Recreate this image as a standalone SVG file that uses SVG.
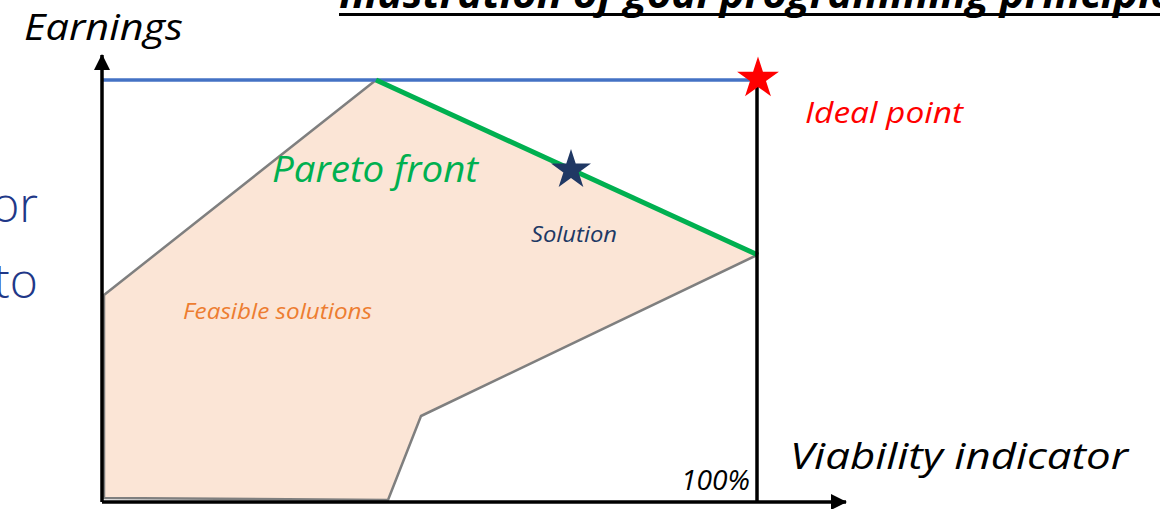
<svg xmlns="http://www.w3.org/2000/svg" xmlns:xlink="http://www.w3.org/1999/xlink" width="1160" height="509" viewBox="0 0 1160 509">
<style>
.it{font-family:"Open Sans","Liberation Sans",sans-serif;font-style:italic}
.axis{stroke:#000;stroke-width:3.5;fill:none}
</style>
<defs>
<marker id="arr" markerUnits="userSpaceOnUse" markerWidth="18" markerHeight="18" refX="15" refY="8" orient="auto">
<path d="M0,0 L16,8 L0,16 z" fill="#000"/>
</marker>
<path id="star" d="M0,-20 L4.49,-6.18 L19.02,-6.18 L7.27,2.36 L11.76,16.18 L0,7.64 L-11.76,16.18 L-7.27,2.36 L-19.02,-6.18 L-4.49,-6.18 z"/>
</defs>
<rect width="1160" height="509" fill="#fff"/>
<g id="title">
<text x="339" y="8" class="it" font-weight="700" font-size="42" fill="#000">Illustration of goal programming principle</text>
<line x1="339" y1="14.5" x2="1160" y2="14.5" stroke="#000" stroke-width="3"/>
</g>
<g id="side-text" font-family="'Open Sans','Liberation Sans',sans-serif" font-weight="300" font-size="48" fill="#1F3888" text-anchor="end">
<text x="38" y="222">or</text>
<text x="38" y="298">to</text>
</g>
<g id="feasible-region">
<polygon points="376,80 757,255 421,416 388,500 104,498 104,295" fill="#FBE5D6" stroke="#7F7F7F" stroke-width="2.5" stroke-linejoin="round"/>
</g>
<g id="connectors">
<line id="ideal-earnings" x1="102" y1="80" x2="757" y2="80" stroke="#4472C4" stroke-width="3.5"/>
<line id="pareto-front-line" x1="376" y1="80" x2="758" y2="255" stroke="#00B050" stroke-width="5"/>
<line id="y-axis" class="axis" x1="102" y1="502" x2="102" y2="55" marker-end="url(#arr)"/>
<line id="x-axis" class="axis" x1="102" y1="502" x2="846" y2="502" marker-end="url(#arr)"/>
<line id="limit-100" class="axis" x1="757" y1="80" x2="757" y2="502"/>
</g>
<g id="ideal-point">
<use xlink:href="#star" href="#star" transform="translate(758,78.5) scale(1.1)" fill="#FF0000"/>
<text x="805" y="123" class="it" font-size="29" fill="#FF0000" textLength="158" lengthAdjust="spacingAndGlyphs">Ideal point</text>
</g>
<g id="solution">
<use xlink:href="#star" href="#star" transform="translate(571,170) scale(1.05)" fill="#203864"/>
<text x="531" y="242" class="it" font-size="21" fill="#203864" textLength="86" lengthAdjust="spacingAndGlyphs">Solution</text>
</g>
<g id="labels">
<text x="24" y="40" class="it" font-size="37" fill="#000" textLength="159" lengthAdjust="spacingAndGlyphs">Earnings</text>
<text x="272" y="182" class="it" font-size="36" fill="#00B050" textLength="206" lengthAdjust="spacingAndGlyphs">Pareto front</text>
<text x="183" y="319" class="it" font-size="21" fill="#ED7D31" textLength="189" lengthAdjust="spacingAndGlyphs">Feasible solutions</text>
<text x="681" y="490" class="it" font-size="28" fill="#000" textLength="69" lengthAdjust="spacingAndGlyphs">100%</text>
<text x="790" y="469" class="it" font-size="37" fill="#000" textLength="338" lengthAdjust="spacingAndGlyphs">Viability indicator</text>
</g>
</svg>
